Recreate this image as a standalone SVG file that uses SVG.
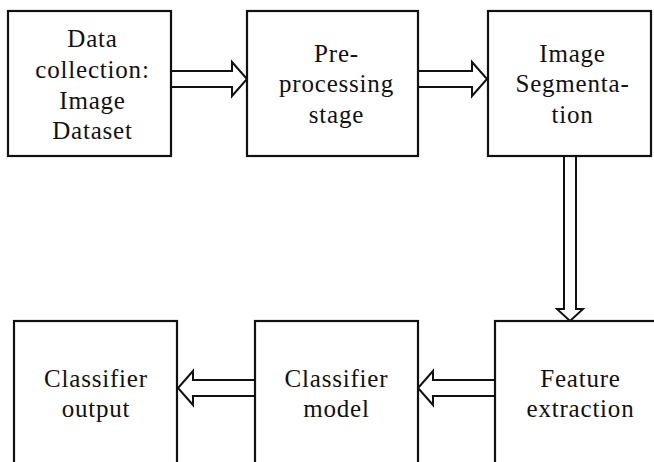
<svg xmlns="http://www.w3.org/2000/svg" width="654" height="462" viewBox="0 0 654 462">
  <style>
    .box { fill: #ffffff; stroke: #111111; stroke-width: 2.2; }
    .arrow { fill: #ffffff; stroke: #111111; stroke-width: 2; stroke-linejoin: miter; }
    .label { font-family: "Liberation Serif", "Times New Roman", serif; font-size: 25px; letter-spacing: 0.8px; fill: #111111; text-anchor: middle; }
  </style>
  <rect width="654" height="462" fill="#ffffff"/>

  <g id="connectors">
    <path class="arrow" d="M171,71 H232 V62 L247,79 L232,96 V87 H171 Z"/>
    <path class="arrow" d="M418,71 H472 V62 L487,79 L472,96 V87 H418 Z"/>
    <path class="arrow" d="M564,156 V309 H557 L570,321 L583,309 H576 V156 Z"/>
    <path class="arrow" d="M495,380 H433 V371 L418,388 L433,405 V396 H495 Z"/>
    <path class="arrow" d="M255,380 H193 V371 L178,388 L193,405 V396 H255 Z"/>
  </g>

  <g id="data-collection">
    <rect class="box" x="8" y="11" width="163" height="145"/>
    <text class="label" x="92.5" y="47">Data</text>
    <text class="label" x="92.5" y="78">collection:</text>
    <text class="label" x="92.5" y="108.5">Image</text>
    <text class="label" x="92.5" y="139">Dataset</text>
  </g>

  <g id="preprocessing">
    <rect class="box" x="247" y="11" width="171" height="145"/>
    <text class="label" x="336.5" y="62">Pre-</text>
    <text class="label" x="336.5" y="92">processing</text>
    <text class="label" x="336.5" y="123">stage</text>
  </g>

  <g id="segmentation">
    <rect class="box" x="488" y="11" width="163" height="145"/>
    <text class="label" x="572.5" y="62">Image</text>
    <text class="label" x="572.5" y="92">Segmenta-</text>
    <text class="label" x="572.5" y="123">tion</text>
  </g>

  <g id="feature-extraction">
    <rect class="box" x="495" y="321" width="170" height="150"/>
    <text class="label" x="580.5" y="387">Feature</text>
    <text class="label" x="580.5" y="417">extraction</text>
  </g>

  <g id="classifier-model">
    <rect class="box" x="255" y="321" width="163" height="150"/>
    <text class="label" x="336.5" y="387">Classifier</text>
    <text class="label" x="336.5" y="417">model</text>
  </g>

  <g id="classifier-output">
    <rect class="box" x="14" y="321" width="163" height="150"/>
    <text class="label" x="96" y="387">Classifier</text>
    <text class="label" x="96" y="417">output</text>
  </g>
</svg>
